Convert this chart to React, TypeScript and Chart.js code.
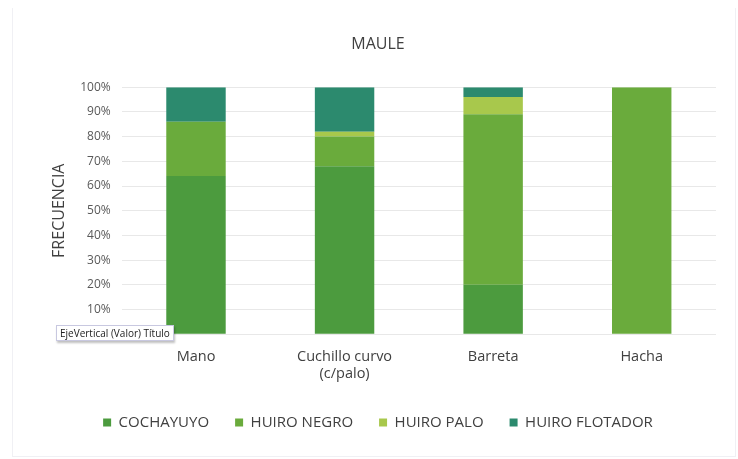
import React, { useEffect, useRef } from "react";
import { Chart, registerables } from "chart.js";

Chart.register(...registerables);

const categories: (string | string[])[] = ["Mano", ["Cuchillo curvo", "(c/palo)"], "Barreta", "Hacha"];
const seriesNames = ["COCHAYUYO", "HUIRO NEGRO", "HUIRO PALO", "HUIRO FLOTADOR"];
const cochayuyo = [64, 68, 20, 0];
const huiroNegro = [22, 12, 69, 100];
const huiroPalo = [0, 2, 7, 0];
const huiroFlotador = [14, 18, 4, 0];
const seriesColors = ["#4c9b3e", "#6aab3c", "#a8c84c", "#2c8a6e"];
const yTicks = [0, 10, 20, 30, 40, 50, 60, 70, 80, 90, 100];

export default function App() {
  const ref = useRef<HTMLCanvasElement>(null);
  useEffect(() => {
    if (!ref.current) return;
    const values = [cochayuyo, huiroNegro, huiroPalo, huiroFlotador];
    const chart = new Chart(ref.current, {
      type: "bar",
      data: {
        labels: categories,
        datasets: seriesNames.map((name, i) => ({
          label: name,
          data: values[i],
          backgroundColor: seriesColors[i],
          borderWidth: 0,
          barPercentage: 0.4,
          categoryPercentage: 1,
        })),
      },
      options: {
        animation: false,
        responsive: false,
        maintainAspectRatio: false,
        layout: { padding: { left: 40, right: 22, top: 22, bottom: 19 } },
        plugins: {
          tooltip: { enabled: false },
          title: {
            display: true,
            text: "MAULE",
            color: "#404040",
            font: { family: "'Open Sans', sans-serif", size: 16, weight: "normal" },
            padding: { top: 13, bottom: 33 },
          },
          legend: {
            position: "bottom",
            labels: {
              boxWidth: 8,
              boxHeight: 8,
              color: "#404040",
              padding: 26,
              font: { family: "'Open Sans', sans-serif", size: 15 },
            },
          },
        },
        scales: {
          x: {
            stacked: true,
            grid: { display: false },
            border: { display: false },
            ticks: {
              color: "#404040",
              font: { family: "'Open Sans', sans-serif", size: 14.5 },
              padding: 6,
            },
          },
          y: {
            stacked: true,
            min: 0,
            max: 100,
            afterBuildTicks: (axis: any) => {
              axis.ticks = yTicks.map((v) => ({ value: v }));
            },
            grid: { color: "#e8e8e8", drawTicks: false },
            border: { display: false },
            title: {
              display: true,
              text: "FRECUENCIA",
              color: "#404040",
              font: { family: "'Open Sans', sans-serif", size: 16 },
              padding: { top: 10, bottom: 0 },
            },
            ticks: {
              color: "#595959",
              font: { family: "'Open Sans', sans-serif", size: 12 },
              padding: 11,
              callback: (v: any) => v + "%",
            },
          },
        },
      },
    });
    return () => chart.destroy();
  }, []);
  return (
    <div style={{ position: "fixed", left: 0, top: 0, width: 738, height: 459, background: "#fff" }}>
      <canvas ref={ref} width={738} height={459} style={{ display: "block" }} />
      <div
        style={{
          position: "absolute",
          left: 56,
          top: 325,
          padding: "1px 3px",
          background: "#fff",
          border: "1px solid #c8c8e0",
          boxShadow: "1px 2px 2px rgba(0,0,0,0.25)",
          fontFamily: "'Open Sans', sans-serif",
          fontSize: 10,
          color: "#222",
          whiteSpace: "nowrap",
          lineHeight: "12px",
        }}
      >
        EjeVertical (Valor) Título
      </div>
      <div style={{ position: "absolute", left: 12, top: 8, width: 722, height: 448, border: "1px solid #f0f0f4", borderTop: "none", pointerEvents: "none" }} />
    </div>
  );
}
